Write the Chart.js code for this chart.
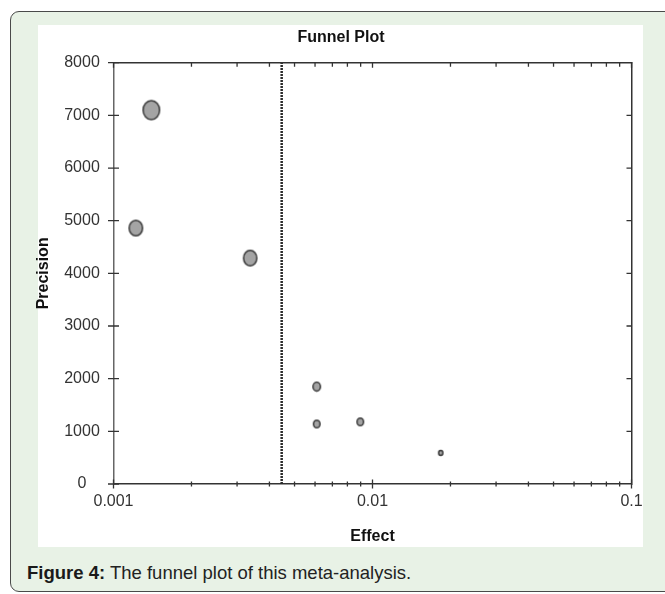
<!DOCTYPE html>
<html>
<head>
<meta charset="utf-8">
<script src="https://cdn.jsdelivr.net/npm/chart.js@4/dist/chart.umd.min.js"></script>
<style>
html,body{margin:0;padding:0;width:665px;height:594px;overflow:hidden;background:#fff;}
#card{position:absolute;left:10px;top:11px;width:700px;height:581px;background:#e8f2e6;border:1.5px solid #4a4a4a;border-radius:9px;box-sizing:border-box;}
#panel{position:absolute;left:38px;top:25px;width:605px;height:522px;background:#fff;}
#cap{position:absolute;left:27px;top:561px;font:18.5px 'Liberation Sans',Arial,sans-serif;color:#222;white-space:nowrap;line-height:24px;}
#cap b{color:#1a1a1a;}
#wrap{position:absolute;left:0;top:0;width:665px;height:594px;}
</style>
</head>
<body>
<div id="card"></div>
<div id="panel"></div>
<div id="cap"><b>Figure 4:</b> The funnel plot of this meta-analysis.</div>
<div id="wrap"><canvas id="c" width="665" height="594"></canvas></div>
<script>
// ---- data ----
const effects      = [0.00140, 0.00122, 0.00337, 0.00609, 0.00609, 0.00897, 0.01834];
const precisions   = [7100, 4860, 4290, 1850, 1140, 1180, 590];
const studyWeights = [100, 69, 67, 25, 20, 20, 10];   // relative weight (marker area)
const pooledEffect = 0.00446;
const yTickValues  = [0, 1000, 2000, 3000, 4000, 5000, 6000, 7000, 8000];
const xTickLabels  = ['0.001', '0.01', '0.1'];

const FONT = "'Liberation Sans', Arial, sans-serif";

// marker images (slightly taller than wide, as in the reference)
const markers = studyWeights.map(w => {
  const d = 18 * Math.sqrt(w / 100);
  const rx = d / 2 - 0.75, ry = d * 1.14 / 2 - 0.75;
  const cv = document.createElement('canvas');
  cv.width = Math.ceil(2 * rx + 3); cv.height = Math.ceil(2 * ry + 3);
  const g = cv.getContext('2d');
  g.beginPath();
  g.ellipse(cv.width / 2, cv.height / 2, rx, ry, 0, 0, Math.PI * 2);
  g.fillStyle = '#a4a4a4'; g.fill();
  g.lineWidth = 1.5; g.strokeStyle = '#3a3a3a'; g.stroke();
  return cv;
});

const axisTicks = {
  id: 'axisTicks',
  afterDatasetsDraw(chart) {
    const {ctx, chartArea: a, scales: {x, y}} = chart;
    ctx.save();
    ctx.strokeStyle = '#333';
    ctx.lineWidth = 1.5;
    ctx.beginPath();
    ctx.moveTo(a.left, a.top); ctx.lineTo(a.right + 0.75, a.top);
    ctx.stroke();
    ctx.lineWidth = 1.3;
    ctx.beginPath();
    yTickValues.forEach(v => {
      const py = y.getPixelForValue(v);
      ctx.moveTo(a.left - 5.5, py); ctx.lineTo(a.left + 5.5, py);
      if (v > 0 && v < 8000) { ctx.moveTo(a.right - 5, py); ctx.lineTo(a.right, py); }
    });
    const majors = xTickLabels.map(parseFloat);
    majors.forEach(m => {
      const px = x.getPixelForValue(m);
      ctx.moveTo(px, a.bottom - 4.5); ctx.lineTo(px, a.bottom + 4.5);
      ctx.moveTo(px, a.top); ctx.lineTo(px, a.top + 5);
    });
    majors.slice(0, -1).forEach(m => {
      for (let k = 2; k <= 9; k++) {
        const px = x.getPixelForValue(m * k);
        ctx.moveTo(px, a.bottom - 2.5); ctx.lineTo(px, a.bottom + 2.5);
        ctx.moveTo(px, a.top); ctx.lineTo(px, a.top + 4);
      }
    });
    ctx.stroke();
    ctx.restore();
  }
};

new Chart(document.getElementById('c'), {
  type: 'scatter',
  data: {
    datasets: [
      {
        label: 'Studies',
        data: effects.map((e, i) => ({x: e, y: precisions[i]})),
        pointStyle: ctx => markers[ctx.dataIndex],
        pointRadius: ctx => 9 * Math.sqrt(studyWeights[ctx.dataIndex] / 100),
        order: 1
      },
      {
        type: 'line',
        label: 'Pooled effect',
        data: [{x: pooledEffect, y: 0}, {x: pooledEffect, y: 8000}],
        borderColor: '#2a2a2a',
        borderWidth: 2.5,
        borderDash: [2, 1],
        pointRadius: 0,
        order: 2
      }
    ]
  },
  options: {
    responsive: false,
    animation: false,
    events: [],
    layout: {padding: {left: 34, right: 17, top: 0, bottom: 48}},
    plugins: {
      legend: {display: false},
      tooltip: {enabled: false},
      title: {
        display: true,
        text: 'Funnel Plot',
        color: '#111',
        font: {family: FONT, size: 16, weight: 'bold'},
        padding: {top: 28.4, bottom: 15.1}
      }
    },
    scales: {
      x: {
        type: 'logarithmic',
        position: 'bottom',
        min: 0.001, max: 0.1,
        afterBuildTicks: s => { s.ticks = xTickLabels.map(t => ({value: parseFloat(t), major: true})); },
        afterFit: s => { s.height = 62; },
        ticks: {
          autoSkip: false, maxRotation: 0, padding: 8, color: '#333',
          font: {family: FONT, size: 16},
          callback: (v, i) => xTickLabels[i]
        },
        grid: {display: false, drawTicks: false, tickLength: 0},
        border: {display: true, color: '#333', width: 1.5},
        title: {display: true, text: 'Effect', color: '#111', font: {family: FONT, size: 16, weight: 'bold'}, padding: {top: 0, bottom: 0}}
      },
      y: {
        type: 'linear',
        position: 'left',
        min: 0, max: 8000,
        afterBuildTicks: s => { s.ticks = yTickValues.map(v => ({value: v})); },
        afterFit: s => { s.width = 79.5; },
        ticks: {
          crossAlign: 'center', padding: 13.7, color: '#333', font: {family: FONT, size: 16},
          callback: v => String(v)
        },
        grid: {display: false, drawTicks: false, tickLength: 0},
        border: {display: true, color: '#666', width: 1.5},
        title: {display: true, text: 'Precision', color: '#111', font: {family: FONT, size: 16, weight: 'bold'}, padding: {top: 0, bottom: 0}}
      },
      y2: {
        type: 'linear',
        position: 'right',
        min: 0, max: 8000,
        afterFit: s => { s.width = 16.5; },
        ticks: {display: false},
        grid: {display: false, drawTicks: false, tickLength: 0},
        border: {display: true, color: '#333', width: 1.5}
      }
    }
  },
  plugins: [axisTicks]
});
</script>
</body>
</html>
